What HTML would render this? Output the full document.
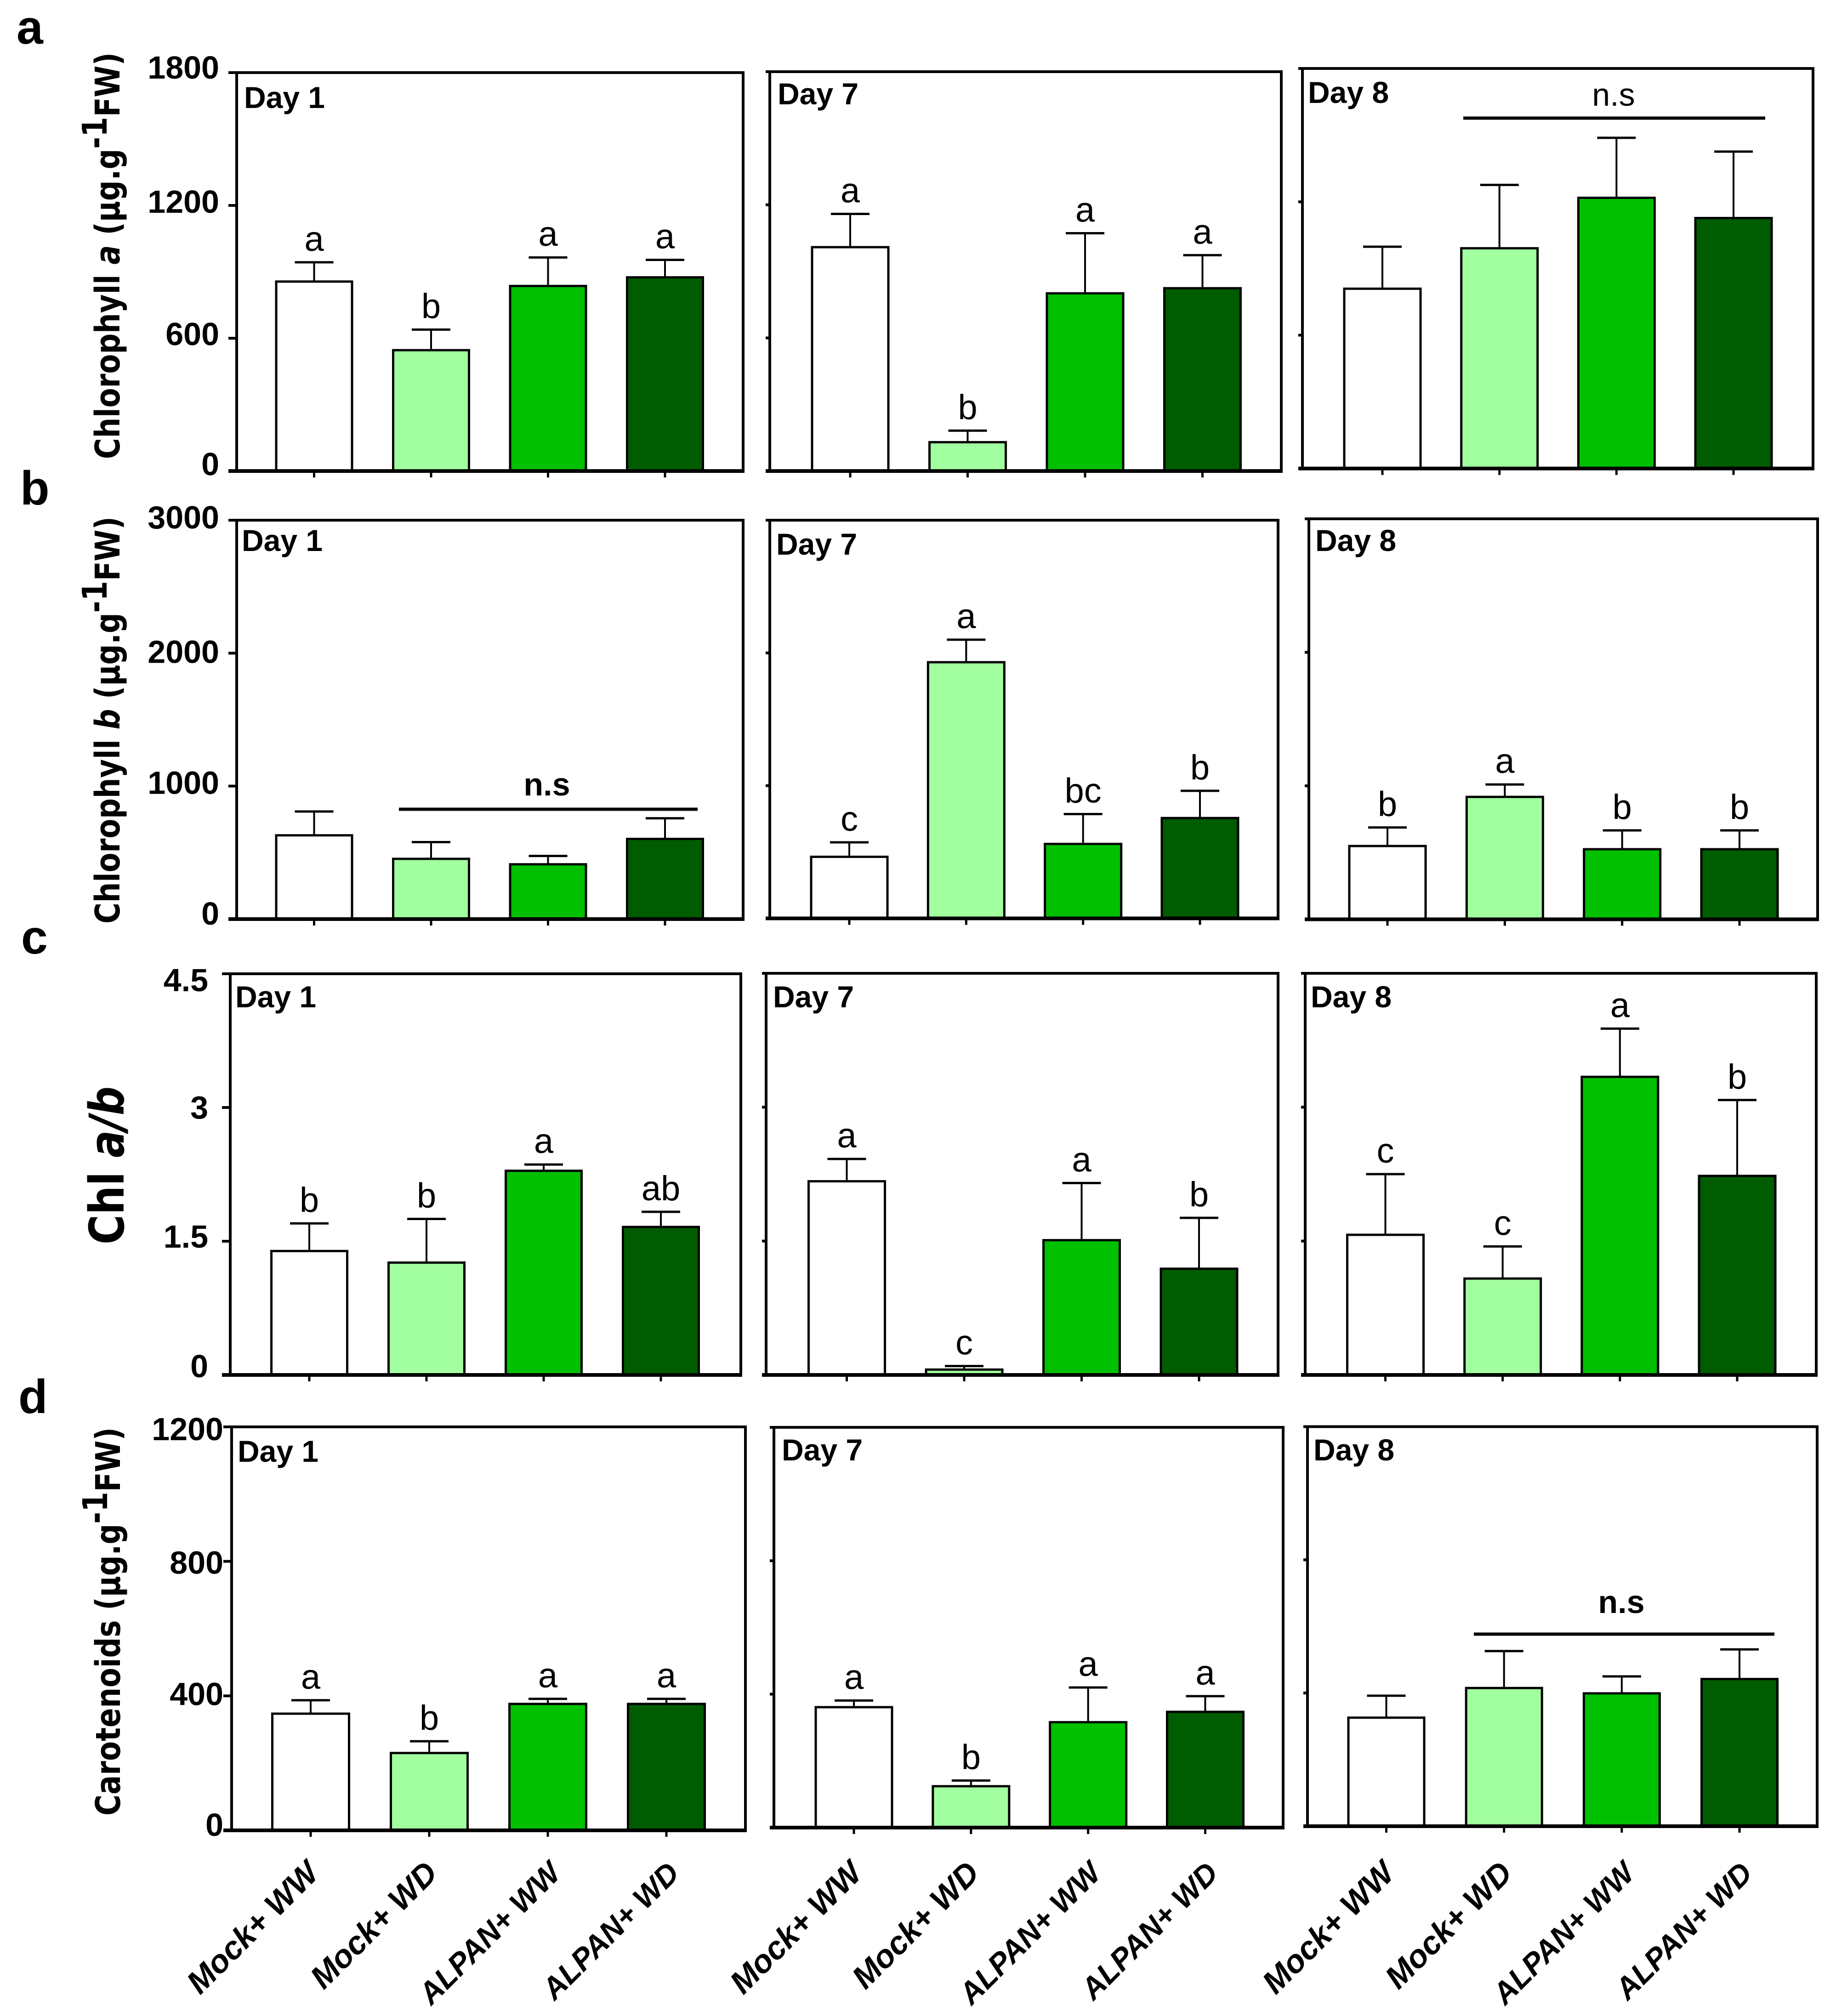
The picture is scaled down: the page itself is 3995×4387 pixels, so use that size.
<!DOCTYPE html>
<html lang="en">
<head>
<meta charset="utf-8">
<title>Chlorophyll and carotenoid bar charts</title>
<style>
html,body{margin:0;padding:0;background:#fff;}
svg{display:block;}
text{font-family:"Liberation Sans",sans-serif;fill:#000;}
text.ytitle{font-family:"DejaVu Sans",sans-serif;}
</style>
</head>
<body>
<svg id="chart" xmlns="http://www.w3.org/2000/svg" width="3995" height="4387" viewBox="0 0 3995 4387">
  <rect width="3995" height="4387" fill="#fff"/>
  <text x="36" y="95" font-size="104" font-weight="bold">a</text>
  <text x="44" y="1098" font-size="104" font-weight="bold">b</text>
  <text x="46" y="2075" font-size="104" font-weight="bold">c</text>
  <text x="40" y="3075" font-size="104" font-weight="bold">d</text>
  <text class="ytitle" transform="translate(260,999) rotate(-90)" font-size="74" font-weight="bold" textLength="885" lengthAdjust="spacingAndGlyphs">Chlorophyll <tspan font-style="italic">a</tspan> (µg.g<tspan dy="-28">-1</tspan><tspan dy="28">FW)</tspan></text>
  <text class="ytitle" transform="translate(260,2010) rotate(-90)" font-size="74" font-weight="bold" textLength="886" lengthAdjust="spacingAndGlyphs">Chlorophyll <tspan font-style="italic">b</tspan> (µg.g<tspan dy="-28">-1</tspan><tspan dy="28">FW)</tspan></text>
  <text class="ytitle" transform="translate(269,2708) rotate(-90)" font-size="104" font-weight="bold" textLength="344" lengthAdjust="spacingAndGlyphs">Chl <tspan font-style="italic">a/b</tspan></text>
  <text class="ytitle" transform="translate(261,3951) rotate(-90)" font-size="74" font-weight="bold" textLength="845" lengthAdjust="spacingAndGlyphs">Carotenoids (µg.g<tspan dy="-28">-1</tspan><tspan dy="28">FW)</tspan></text>
</svg>
<script>
const categories = ['Mock+ WW', 'Mock+ WD', 'ALPAN+ WW', 'ALPAN+ WD'];
const barColors = ['#ffffff', '#a2ff9f', '#00c000', '#005c00'];

const ticksA = [0, 600, 1200, 1800];
const tickLabelsA = ['0', '600', '1200', '1800'];
const ticksB = [0, 1000, 2000, 3000];
const tickLabelsB = ['0', '1000', '2000', '3000'];
const ticksC = [0, 1.5, 3, 4.5];
const tickLabelsC = ['0', '1.5', '3', '4.5'];
const ticksD = [0, 400, 800, 1200];
const tickLabelsD = ['0', '400', '800', '1200'];

const chlADay1 = [856, 546, 836, 875];
const chlADay1Err = [87, 93, 129, 79];
const chlADay1Sig = ['a', 'b', 'a', 'a'];
const chlADay7 = [1009, 130, 801, 824];
const chlADay7Err = [150, 52, 271, 149];
const chlADay7Sig = ['a', 'b', 'a', 'a'];
const chlADay8 = [809, 991, 1218, 1127];
const chlADay8Err = [189, 285, 270, 299];
const chlADay8Sig = ['', '', '', ''];

const chlBDay1 = [630, 453, 412, 603];
const chlBDay1Err = [179, 126, 63, 155];
const chlBDay1Sig = ['', '', '', ''];
const chlBDay7 = [464, 1930, 561, 756];
const chlBDay7Err = [109, 170, 225, 205];
const chlBDay7Sig = ['c', 'a', 'bc', 'b'];
const chlBDay8 = [549, 917, 525, 525];
const chlBDay8Err = [139, 93, 141, 141];
const chlBDay8Sig = ['b', 'a', 'b', 'b'];

const ratioDay1 = [1.39, 1.26, 2.29, 1.66];
const ratioDay1Err = [0.31, 0.49, 0.07, 0.17];
const ratioDay1Sig = ['b', 'b', 'a', 'ab'];
const ratioDay7 = [2.17, 0.06, 1.51, 1.19];
const ratioDay7Err = [0.25, 0.04, 0.64, 0.57];
const ratioDay7Sig = ['a', 'c', 'a', 'b'];
const ratioDay8 = [1.57, 1.08, 3.34, 2.23];
const ratioDay8Err = [0.68, 0.36, 0.54, 0.85];
const ratioDay8Sig = ['c', 'c', 'a', 'b'];

const carDay1 = [347, 230, 376, 376];
const carDay1Err = [40, 35, 15, 15];
const carDay1Sig = ['a', 'b', 'a', 'a'];
const carDay7 = [361, 124, 316, 347];
const carDay7Err = [20, 17, 104, 47];
const carDay7Sig = ['a', 'b', 'a', 'a'];
const carDay8 = [326, 415, 399, 442];
const carDay8Err = [66, 111, 51, 89];
const carDay8Sig = ['', '', '', ''];

const SVG_NS = 'http://www.w3.org/2000/svg';
const root = document.getElementById('chart');

function mk(tag, attrs, text) {
  const el = document.createElementNS(SVG_NS, tag);
  for (const k in attrs) el.setAttribute(k, attrs[k]);
  if (text !== undefined) el.textContent = text;
  root.appendChild(el);
  return el;
}

function drawPanel(p) {
  const yScale = function (v) { return p.b - (v / p.max) * (p.b - p.t); };
  const xScale = function (i) { return p.c0 + i * (p.c3 - p.c0) / (categories.length - 1); };
  const id = p.id;
  let el;

  el = mk('rect', { x: p.l, y: p.t, width: p.r - p.l, height: p.b - p.t, fill: 'none', stroke: '#000', 'stroke-width': 6 });
  
  

  p.ticks.forEach(function (tick, i) {
    const y = yScale(tick);
    let t = mk('line', { x1: p.l - (p.col === 0 ? 18 : 9), x2: p.l, y1: y, y2: y, stroke: '#000', 'stroke-width': 6 });
    
    
    if (p.col === 0) {
      let lab = mk('text', { x: p.labelRight, y: y + p.labelDy[i], 'font-size': 70, 'font-weight': 'bold', 'text-anchor': 'end' }, p.tickLabels[i]);
      
      
    }
  });

  categories.forEach(function (cat, i) {
    const cx = xScale(i);
    const yTop = yScale(p.values[i]);
    const yErr = yScale(p.values[i] + p.errors[i]);

    let stem = mk('line', { x1: cx, x2: cx, y1: yTop, y2: yErr, stroke: '#000', 'stroke-width': 4 });
    
    

    let cap = mk('line', { x1: cx - 42, x2: cx + 42, y1: yErr, y2: yErr, stroke: '#000', 'stroke-width': 5 });
    
    

    let bar = mk('rect', { x: cx - p.w / 2, y: yTop, width: p.w, height: p.b - yTop, fill: barColors[i], stroke: '#000', 'stroke-width': 5 });
    
    

    let xt = mk('line', { x1: cx, x2: cx, y1: p.b, y2: p.b + 14, stroke: '#000', 'stroke-width': 5 });
    
    

    if (p.sig[i]) {
      let sig = mk('text', { x: cx, y: yErr - 25, 'font-size': 76, 'text-anchor': 'middle' }, p.sig[i]);
      
      
    }

    if (p.xLabels) {
      const isLong = i >= 2;
      const ex = cx + (isLong ? 32 : 22);
      const ey = 4080;
      let xl = mk('text', { transform: 'translate(' + ex + ',' + ey + ') rotate(-45)', 'font-size': isLong ? 66 : 70, 'font-weight': 'bold', 'font-style': 'italic', 'text-anchor': 'end' }, cat);
      
      
    }
  });

  el = mk('line', { x1: p.l - (p.col === 0 ? 18 : 9), x2: p.r + 3, y1: p.b, y2: p.b, stroke: '#000', 'stroke-width': 8 });
  
  

  el = mk('text', { x: p.dayX, y: p.dayY, 'font-size': 66, 'font-weight': 'bold' }, p.day);
  
  

  if (p.ns) {
    el = mk('line', { x1: p.ns.x1, x2: p.ns.x2, y1: p.ns.y, y2: p.ns.y, stroke: '#000', 'stroke-width': 7 });
    
    
    el = mk('text', { x: p.ns.tx, y: p.ns.ty, 'font-size': 70, 'font-weight': p.ns.bold ? 'bold' : 'normal', 'text-anchor': 'middle' }, 'n.s');
    
    
  }
}

const rowA = { max: 1800, ticks: ticksA, tickLabels: tickLabelsA, labelRight: 477, labelDy: [9, 15, 16, 13] };
const rowB = { max: 3000, ticks: ticksB, tickLabels: tickLabelsB, labelRight: 477, labelDy: [12, 17, 21, 18] };
const rowC = { max: 4.5, ticks: ticksC, tickLabels: tickLabelsC, labelRight: 453, labelDy: [5, 14, 24, 38] };
const rowD = { max: 1200, ticks: ticksD, tickLabels: tickLabelsD, labelRight: 486, labelDy: [12, 20, 27, 29] };

[
  Object.assign({}, rowA, { id: 'a-day1', col: 0, day: 'Day 1', l: 515, r: 1617, t: 158, b: 1025, c0: 683.5, c3: 1447, w: 165, dayX: 531, dayY: 235, values: chlADay1, errors: chlADay1Err, sig: chlADay1Sig }),
  Object.assign({}, rowA, { id: 'a-day7', col: 1, day: 'Day 7', l: 1675, r: 2788, t: 156, b: 1025, c0: 1850, c3: 2616.5, w: 166, dayX: 1692, dayY: 227, values: chlADay7, errors: chlADay7Err, sig: chlADay7Sig }),
  Object.assign({}, rowA, { id: 'a-day8', col: 2, day: 'Day 8', l: 2834, r: 3945, t: 149, b: 1019.5, c0: 3008, c3: 3772, w: 166, dayX: 2846, dayY: 224, values: chlADay8, errors: chlADay8Err, sig: chlADay8Sig, ns: { x1: 3184, x2: 3841, y: 257, tx: 3511, ty: 230, bold: false } }),

  Object.assign({}, rowB, { id: 'b-day1', col: 0, day: 'Day 1', l: 515, r: 1617, t: 1132, b: 2000, c0: 683.5, c3: 1447, w: 165, dayX: 526, dayY: 1199, values: chlBDay1, errors: chlBDay1Err, sig: chlBDay1Sig, ns: { x1: 868, x2: 1518, y: 1761, tx: 1190, ty: 1731, bold: true } }),
  Object.assign({}, rowB, { id: 'b-day7', col: 1, day: 'Day 7', l: 1675, r: 2781, t: 1132, b: 1998.5, c0: 1848, c3: 2611, w: 166, dayX: 1689, dayY: 1207, values: chlBDay7, errors: chlBDay7Err, sig: chlBDay7Sig }),
  Object.assign({}, rowB, { id: 'b-day8', col: 2, day: 'Day 8', l: 2848, r: 3955, t: 1129, b: 2000.5, c0: 3019, c3: 3785, w: 166, dayX: 2862, dayY: 1199, values: chlBDay8, errors: chlBDay8Err, sig: chlBDay8Sig }),

  Object.assign({}, rowC, { id: 'c-day1', col: 0, day: 'Day 1', l: 501, r: 1612, t: 2119, b: 2992, c0: 673, c3: 1438, w: 165, dayX: 512, dayY: 2192, values: ratioDay1, errors: ratioDay1Err, sig: ratioDay1Sig }),
  Object.assign({}, rowC, { id: 'c-day7', col: 1, day: 'Day 7', l: 1667, r: 2781, t: 2118, b: 2992, c0: 1842.5, c3: 2609, w: 166, dayX: 1682, dayY: 2192, values: ratioDay7, errors: ratioDay7Err, sig: ratioDay7Sig }),
  Object.assign({}, rowC, { id: 'c-day8', col: 2, day: 'Day 8', l: 2840, r: 3952, t: 2118, b: 2992, c0: 3014.5, c3: 3780, w: 166, dayX: 2852, dayY: 2192, values: ratioDay8, errors: ratioDay8Err, sig: ratioDay8Sig }),

  Object.assign({}, rowD, { id: 'd-day1', col: 0, day: 'Day 1', l: 504, r: 1622, t: 3105, b: 3983, c0: 676, c3: 1450, w: 167, dayX: 517, dayY: 3181, values: carDay1, errors: carDay1Err, sig: carDay1Sig, xLabels: true }),
  Object.assign({}, rowD, { id: 'd-day7', col: 1, day: 'Day 7', l: 1684, r: 2792, t: 3106, b: 3977, c0: 1858, c3: 2622.5, w: 166, dayX: 1701, dayY: 3178, values: carDay7, errors: carDay7Err, sig: carDay7Sig, xLabels: true }),
  Object.assign({}, rowD, { id: 'd-day8', col: 2, day: 'Day 8', l: 2845, r: 3954, t: 3104.5, b: 3974, c0: 3016.5, c3: 3785, w: 165, dayX: 2858, dayY: 3178, values: carDay8, errors: carDay8Err, sig: carDay8Sig, xLabels: true, ns: { x1: 3207, x2: 3861, y: 3556, tx: 3528, ty: 3510, bold: true } })
].forEach(drawPanel);
</script>
</body>
</html>
